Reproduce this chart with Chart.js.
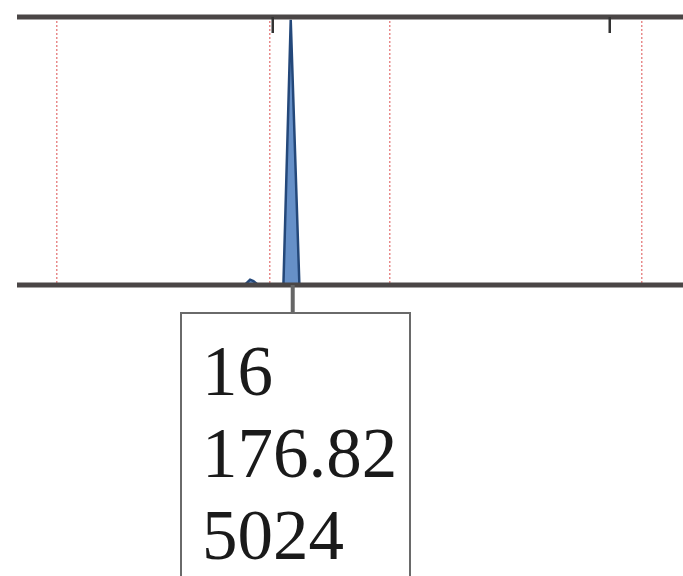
<!DOCTYPE html>
<html><head><meta charset="utf-8">
<script src="https://cdn.jsdelivr.net/npm/chart.js@4/dist/chart.umd.min.js"></script>
<style>
html,body{margin:0;padding:0;background:#fff;}
#wrap{position:relative;width:683px;height:576px;overflow:hidden;}
#c{position:absolute;left:0;top:0;}
#box{position:absolute;left:180px;top:312px;width:231px;height:300px;border:2px solid #6a6a6a;box-sizing:border-box;
font-family:"Liberation Serif","DejaVu Serif",serif;font-size:71px;line-height:82px;color:#1a1a1a;padding:16px 0 0 20px;}
</style></head>
<body><div id="wrap"><canvas id="c" width="683" height="576"></canvas>
<div id="box"></div></div>
<script>
// retention axis (arbitrary units 0..100) and detector signal (% of full scale)
const times  = [0, 34.2, 35.0, 35.5, 36.2, 40.0, 41.1, 42.4, 43.0, 100];
const signal = [0,    0,  2.0,  1.5,    0,    0,   99,    0,    0,   0];
const redGridAt = [6.0, 38.0, 56.0, 93.8];
const topTicksAt = [38.4, 89.0];
const peakMarkAt = 41.4;
const peakLabel = ["16", "176.82", "5024"];

document.getElementById('box').innerHTML = peakLabel.join('<br>');

const frame = {
  id:'frame',
  afterDatasetsDraw(chart){
    const {ctx, chartArea:a, scales:{x,y}} = chart;
    ctx.save();
    ctx.strokeStyle = '#4a4646';
    ctx.lineWidth = 5;
    [y.getPixelForValue(100), y.getPixelForValue(0)].forEach(py=>{
      ctx.beginPath(); ctx.moveTo(a.left, py); ctx.lineTo(a.right, py); ctx.stroke();
    });
    ctx.lineWidth = 2.5;
    ctx.strokeStyle = '#333';
    topTicksAt.forEach(v=>{
      const px = x.getPixelForValue(v);
      ctx.beginPath(); ctx.moveTo(px, y.getPixelForValue(100)); ctx.lineTo(px, y.getPixelForValue(100)+16); ctx.stroke();
    });
    ctx.strokeStyle = '#666';
    ctx.lineWidth = 4;
    const pm = x.getPixelForValue(peakMarkAt);
    ctx.beginPath(); ctx.moveTo(pm, y.getPixelForValue(0)); ctx.lineTo(pm, 313); ctx.stroke();
    ctx.restore();
  }
};

new Chart(document.getElementById('c'), {
  type:'line',
  data:{ datasets:[{
    data: times.map((t,i)=>({x:t, y:signal[i]})),
    borderColor:'#24487a', borderWidth:2.5,
    backgroundColor:'rgba(75,125,190,0.85)', fill:'origin',
    pointRadius:0, tension:0
  }]},
  options:{
    responsive:false, animation:false,
    layout:{padding:{left:17, top:17, right:0, bottom:291}},
    plugins:{legend:{display:false}, tooltip:{enabled:false}},
    scales:{
      x:{type:'linear', min:0, max:100, display:true,
         afterBuildTicks(s){ s.ticks = redGridAt.map(v=>({value:v})); },
         ticks:{display:false},
         border:{display:false, dash:[2,2]},
         grid:{color:'#e88a8a', lineWidth:1.5, drawTicks:false}},
      y:{min:0, max:100, display:false}
    }
  },
  plugins:[frame]
});
</script></body></html>
